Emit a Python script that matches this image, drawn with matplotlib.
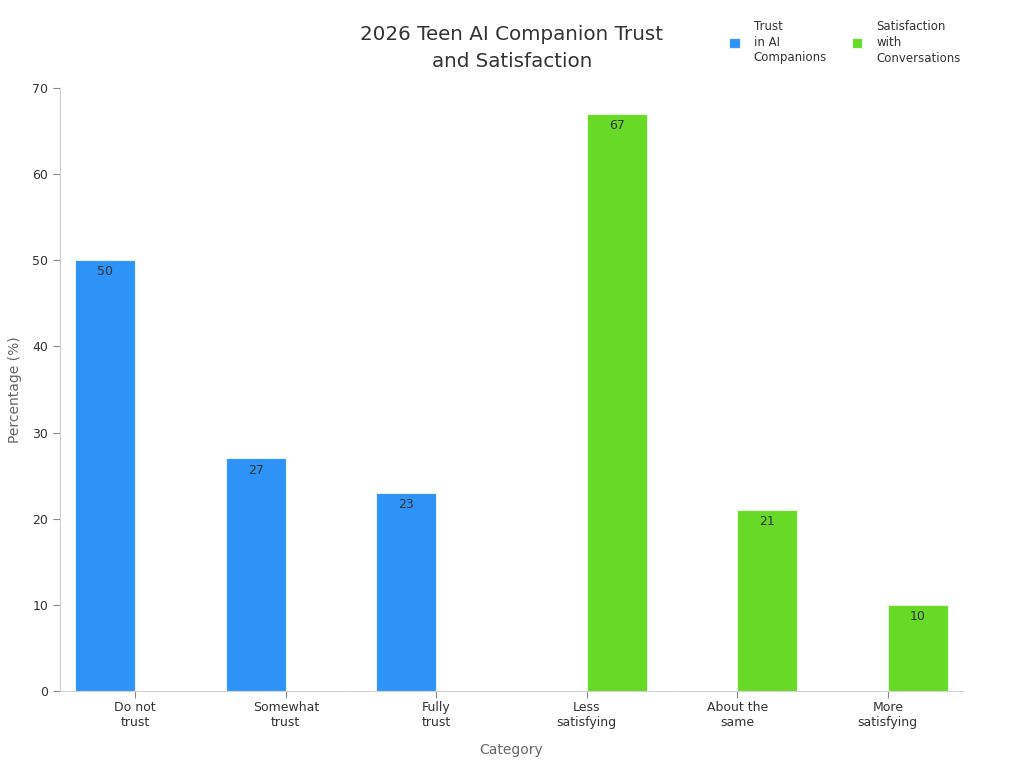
import matplotlib
matplotlib.use("Agg")
import matplotlib.pyplot as plt
import numpy as np

categories = ["Do not\ntrust", "Somewhat\ntrust", "Fully\ntrust",
              "Less\nsatisfying", "About the\nsame", "More\nsatisfying"]
trust = [50, 27, 23, 0, 0, 0]
satisfaction = [0, 0, 0, 67, 21, 10]
series_names = ["Trust\nin AI\nCompanions", "Satisfaction\nwith\nConversations"]
colors = ["#2E93F7", "#66DA26"]

fig = plt.figure(figsize=(10.24, 7.68), dpi=100)
ax = fig.add_axes([60/1024, 1-691/768, (963-60)/1024, (691-88)/768])

x = np.arange(len(categories))
w = 0.4
b1 = ax.bar(x - w/2, trust, w, color=colors[0], edgecolor="#e6f0fb", linewidth=0.8, label=series_names[0])
b2 = ax.bar(x + w/2, satisfaction, w, color=colors[1], edgecolor="#e6f7dc", linewidth=0.8, label=series_names[1])

for bars, vals in ((b1, trust), (b2, satisfaction)):
    for r, v in zip(bars, vals):
        if v > 0:
            ax.text(r.get_x() + r.get_width()/2, v - 0.6, f"{v}", ha="center", va="top",
                    fontsize=9, color="#333333")

ax.set_xlim(-0.5, len(categories) - 0.5)
ax.set_ylim(0, 70)
ax.set_yticks(range(0, 71, 10))
ax.set_xticks(x)
ax.set_xticklabels(categories, fontsize=9, color="#333333")
ax.tick_params(axis="y", labelsize=9, labelcolor="#333333", color="#888888", length=5)
ax.tick_params(axis="x", color="#888888", length=5, pad=2.5)
for s in ("top", "right"):
    ax.spines[s].set_visible(False)
for s in ("left", "bottom"):
    ax.spines[s].set_color("#d0d0d0")

ax.set_xlabel("Category", fontsize=10, color="#666666", labelpad=10)
ax.set_ylabel("Percentage (%)", fontsize=10, color="#666666", labelpad=7)

fig.text(512/1024, 1-48/768, "2026 Teen AI Companion Trust\nand Satisfaction", ha="center", va="center",
         fontsize=14.3, color="#333333", linespacing=1.5)

leg = fig.legend(handles=[b1, b2], labels=series_names, loc="center", bbox_to_anchor=(845/1024, 1-42/768),
                 ncol=2, frameon=False, fontsize=8.5, handlelength=0.9, handleheight=0.9,
                 columnspacing=2.1, handletextpad=1.2)
for t in leg.get_texts():
    t.set_color("#333333")
    t.set_linespacing(1.3)

fig.savefig("out.png", dpi=100)
